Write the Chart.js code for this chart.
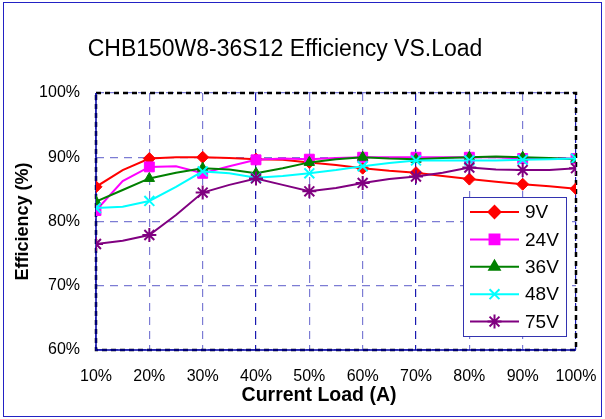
<!DOCTYPE html>
<html>
<head>
<meta charset="utf-8">
<script src="https://cdn.jsdelivr.net/npm/chart.js@4.4.1/dist/chart.umd.min.js"></script>
<style>
  html, body { margin: 0; padding: 0; background: #fff; }
  #wrap { width: 605px; height: 419px; }
</style>
</head>
<body>
<div id="wrap"><canvas id="myChart" width="605" height="419"></canvas></div>
<script>
// load points (%), markers only on the 10% steps
const loads = [10, 15, 20, 25, 30, 35, 40, 45, 50, 55, 60, 65, 70, 75, 80, 85, 90, 95, 100];

const eff9V  = [85.4, 88.0, 89.8, 90.0, 90.0, 89.9, 89.7, 89.6, 89.2, 88.8, 88.3, 87.9, 87.6, 87.1, 86.6, 86.2, 85.8, 85.5, 85.1];
const eff24V = [81.7, 86.3, 88.5, 88.6, 87.5, 88.6, 89.6, 89.8, 89.7, 89.9, 90.0, 90.0, 90.0, 90.0, 90.0, 90.0, 89.8, 89.8, 89.8];
const eff36V = [83.1, 84.9, 86.7, 87.6, 88.3, 88.1, 87.5, 88.3, 89.2, 89.7, 90.0, 89.8, 89.7, 89.9, 90.0, 90.1, 90.0, 89.9, 89.7];
const eff48V = [82.1, 82.3, 83.2, 85.4, 87.8, 87.5, 86.8, 87.1, 87.5, 88.0, 88.6, 89.1, 89.5, 89.5, 89.5, 89.5, 89.6, 89.7, 89.8];
const eff75V = [76.5, 77.0, 77.9, 81.0, 84.5, 85.7, 86.7, 85.7, 84.7, 85.2, 86.0, 86.6, 87.0, 87.6, 88.4, 88.1, 88.0, 88.0, 88.3];

const seriesNames = ['9V', '24V', '36V', '48V', '75V'];
const yTicks = [60, 70, 80, 90, 100];

const FONT = "'Liberation Sans', Arial, sans-serif";

function makeSet(label, values, color, style, r, bw, order) {
  return {
    label: label,
    data: values.map((v, i) => ({ x: loads[i], y: v })),
    borderColor: color,
    backgroundColor: color,
    borderWidth: 2,
    pointStyle: style,
    pointRadius: ctx => (loads[ctx.dataIndex] % 10 === 0 ? r : 0),
    pointBorderWidth: bw,
    pointHoverRadius: 0,
    tension: 0,
    order: order
  };
}

// frame, plot border, chart title and x title
const framePlugin = {
  id: 'frame',
  beforeDraw(chart) {
    const c = chart.ctx;
    c.save();
    c.fillStyle = '#fff';
    c.fillRect(0, 0, chart.width, chart.height);
    c.strokeStyle = '#2222c4';
    c.lineWidth = 1;
    c.strokeRect(3.5, 2.5, 598, 414);
    c.fillStyle = '#000';
    c.textAlign = 'center';
    c.textBaseline = 'middle';
    c.font = '23px ' + FONT;
    c.fillText('CHB150W8-36S12 Efficiency VS.Load', 285, 50);
    c.font = 'bold 19.5px ' + FONT;
    c.fillText('Current Load (A)', 319, 396);
    c.restore();
  },
  beforeDatasetsDraw(chart) {
    const a = chart.chartArea, c = chart.ctx;
    c.save();
    c.strokeStyle = '#000';
    c.lineWidth = 2.5;
    c.setLineDash([5, 4]);
    c.strokeRect(a.left, a.top, a.right - a.left, a.bottom - a.top);
    c.setLineDash([]);
    c.strokeStyle = '#0000a0';
    c.lineWidth = 1.5;
    c.beginPath();
    c.moveTo(a.left, a.top);
    c.lineTo(a.left, a.bottom);
    c.lineTo(a.right, a.bottom);
    c.stroke();
    c.restore();
  }
};

// legend box inside the plot
const boxLegend = {
  id: 'boxLegend',
  afterDatasetsDraw(chart) {
    const c = chart.ctx;
    const x0 = 463.5, y0 = 197.5, w = 103, h = 139;
    c.save();
    c.fillStyle = '#fff';
    c.fillRect(x0, y0, w, h);
    c.strokeStyle = '#3333b0';
    c.lineWidth = 1;
    c.strokeRect(x0, y0, w, h);
    chart.data.datasets.forEach((ds, i) => {
      const y = 212 + i * 27.4;
      c.strokeStyle = ds.borderColor;
      c.fillStyle = ds.backgroundColor;
      c.lineWidth = 2;
      c.beginPath();
      c.moveTo(470, y);
      c.lineTo(519, y);
      c.stroke();
      const r = [6, 7, 6, 7, 7][i];
      Chart.helpers.drawPoint(c, { pointStyle: ds.pointStyle, radius: r, borderWidth: ds.pointBorderWidth, rotation: 0 }, 494.5, y);
      c.fillStyle = '#000';
      c.font = '19px ' + FONT;
      c.textAlign = 'left';
      c.textBaseline = 'middle';
      c.fillText(ds.label, 525, y + 1);
    });
    c.restore();
  }
};

const ctx = document.getElementById('myChart');

new Chart(ctx, {
  type: 'line',
  data: {
    datasets: [
      makeSet(seriesNames[0], eff9V, '#ff0000', 'rectRot', 6, 1, 4),
      makeSet(seriesNames[1], eff24V, '#ff00ff', 'rect', 7, 1, 3),
      makeSet(seriesNames[2], eff36V, '#008000', 'triangle', 6, 1, 2),
      makeSet(seriesNames[3], eff48V, '#00ffff', 'crossRot', 7, 2, 1),
      makeSet(seriesNames[4], eff75V, '#800080', 'star', 7, 2, 0)
    ]
  },
  options: {
    responsive: false,
    animation: false,
    devicePixelRatio: 1,
    layout: { padding: { top: 93, right: 29, left: 0, bottom: 0 } },
    plugins: {
      legend: { display: false },
      title: { display: false },
      tooltip: { enabled: false }
    },
    scales: {
      x: {
        type: 'linear',
        min: 10,
        max: 100,
        afterFit: s => { s.height = 69; s.paddingLeft = 0; s.paddingRight = 0; },
        afterBuildTicks: s => { s.ticks = loads.filter(v => v % 10 === 0).map(v => ({ value: v })); },
        ticks: {
          autoSkip: false,
          maxRotation: 0,
          padding: 17,
          color: '#000',
          font: { family: FONT, size: 16 },
          callback: v => v + '%'
        },
        grid: {
          drawTicks: false,
          color: c => ([40, 70, 100].includes(c.tick && c.tick.value) ? '#1a1ab0' : '#7c7cd4'),
          lineWidth: 1.2
        },
        border: { display: false, dash: [8, 6] },
        title: { display: false }
      },
      y: {
        min: 60,
        max: 100,
        afterFit: s => { s.width = 96; },
        afterBuildTicks: s => { s.ticks = yTicks.map(v => ({ value: v })); },
        ticks: {
          padding: 16,
          color: '#000',
          font: { family: FONT, size: 16 },
          callback: v => v + '%'
        },
        grid: {
          drawTicks: false,
          color: '#7c7cd4',
          lineWidth: 1.2
        },
        border: { display: false, dash: [8, 6] },
        title: {
          display: true,
          text: 'Efficiency (%)',
          color: '#000',
          font: { family: FONT, size: 18, weight: 'bold' },
          padding: { top: 12, bottom: 0 }
        }
      }
    }
  },
  plugins: [framePlugin, boxLegend]
});
</script>
</body>
</html>
